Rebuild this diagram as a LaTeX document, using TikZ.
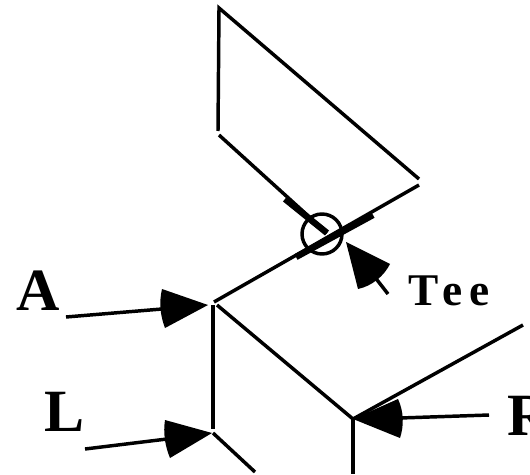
\documentclass[tikz,border=0pt]{standalone}
\usepackage{fontspec}
\setmainfont{Liberation Serif}
\usetikzlibrary{positioning, arrows.meta, calc}
\tikzset{
  edgeline/.style={line width=2.6pt},
  stemline/.style={line width=2.6pt},
  thickline/.style={line width=4.8pt},
  headfill/.style={fill=black, draw=none},
  biglabel/.style={anchor=base west, inner sep=0pt, font=\bfseries\fontsize{45}{45}\selectfont},
  teelabel/.style={anchor=base west, inner sep=0pt, font=\bfseries\fontsize{34}{34}\selectfont\addfontfeature{LetterSpace=17}}
}
\begin{document}
\begin{tikzpicture}[x=0.75pt, y=-0.75pt]
  \useasboundingbox (0,0) rectangle (530,474);
  % junctions
  \coordinate (topa) at (219,8);
  \coordinate (topb) at (218,131);
  \coordinate (topc) at (419,179);
  \coordinate (topd) at (219,135);
  \coordinate (tee) at (327,233);
  \coordinate (teeright) at (419,185);
  \coordinate (arrowj) at (214,302);
  \coordinate (arrowk) at (217,305);
  \coordinate (arrowdown) at (213,429);
  \coordinate (ell) at (213,433);
  \coordinate (ellend) at (255,472);
  \coordinate (fork) at (353,419);
  \coordinate (forkend) at (523,325);
  \coordinate (forkdown) at (353,474);

  % upper shape
  \draw[edgeline] (topb) -- (topa) -- (topc);
  \draw[edgeline] (topd) -- (tee);
  \draw[edgeline] (teeright) -- (arrowj);
  \draw[thickline] (285,199) -- (tee);
  \draw[thickline] (296,257) -- (373,215);
  \draw[line width=2.6pt] (322,234) circle (20);

  % lower edges
  \draw[edgeline] (213,305) -- (arrowdown);
  \draw[edgeline] (arrowk) -- (fork);
  \draw[edgeline] (ell) -- (ellend);
  \draw[edgeline] (fork) -- (forkend);
  \draw[edgeline] (fork) -- (forkdown);

  % labels
  \node[biglabel] (labela) at (16,310) {A};
  \node[biglabel] (labell) at (44,431) {L};
  \node[biglabel] (labelr) at (507,435) {R};
  \node[teelabel] (labeltee) at (408,305) {Tee};

  % pointers
  \coordinate (tipa) at (208,305);
  \coordinate (taila) at (66,317);
  \draw[stemline] (taila) -- (162,309);
  \fill[headfill] (tipa) -- (162,289) .. controls (159,302) and (160,315) .. (165,328) -- cycle;

  \coordinate (tipl) at (212,433);
  \coordinate (taill) at (85,449);
  \draw[stemline] (taill) -- (167,439);
  \fill[headfill] (tipl) -- (165,420) .. controls (163,433) and (165,446) .. (170,458) -- cycle;

  \coordinate (tipr) at (353,419);
  \coordinate (tailr) at (489,415);
  \draw[stemline] (tailr) -- (400,418);
  \fill[headfill] (tipr) -- (398,399) .. controls (404,412) and (404,426) .. (400,438) -- cycle;

  \coordinate (tiptee) at (346,242);
  \coordinate (tailtee) at (388,294);
  \draw[stemline] (tailtee) -- (374,276);
  \fill[headfill] (tiptee) -- (390,264) .. controls (384,276) and (372,286) .. (358,289) -- cycle;
\end{tikzpicture}
\end{document}
